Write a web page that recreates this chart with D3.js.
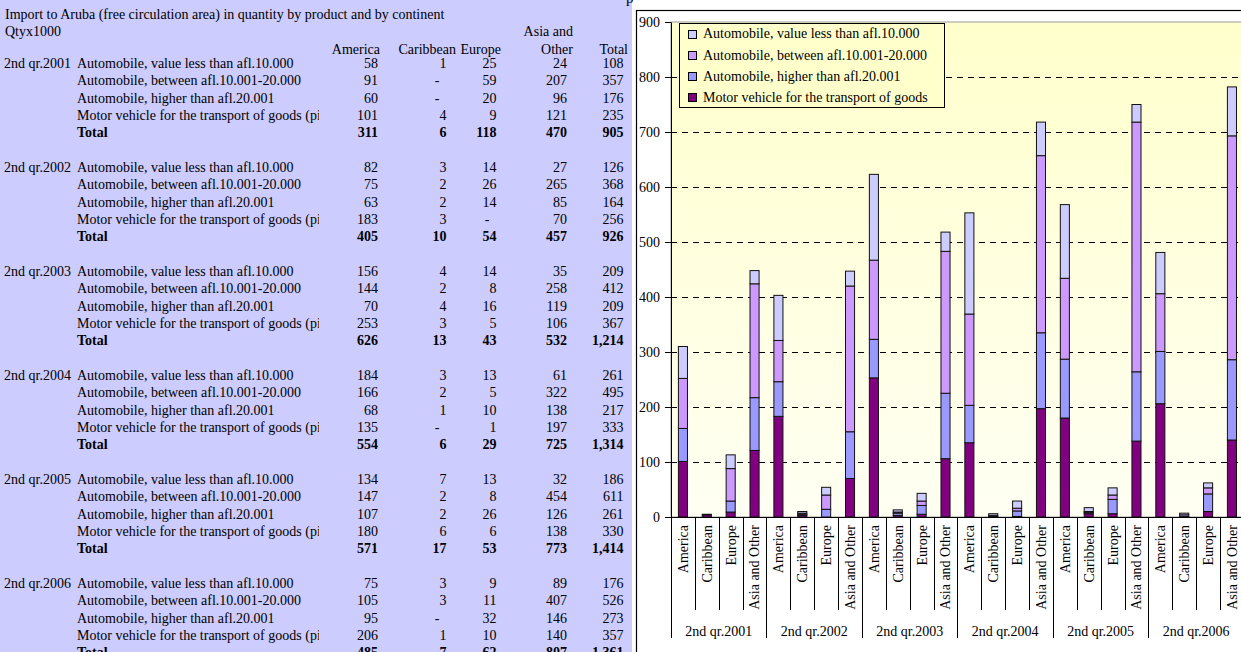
<!DOCTYPE html>
<html>
<head>
<meta charset="utf-8">
<script src="https://cdn.jsdelivr.net/npm/d3@7"></script>
<style>
  body { margin: 0; background: #fff; }
  text { font-family: "Liberation Serif", "Times New Roman", serif; font-size: 14px; fill: #000; }
</style>
</head>
<body>
<div id="sheet"></div>
<script>
// --- data ---
const quarters = ["2nd qr.2001", "2nd qr.2002", "2nd qr.2003", "2nd qr.2004", "2nd qr.2005", "2nd qr.2006"];
const continents = ["America", "Caribbean", "Europe", "Asia and Other"];
const products = [
  "Automobile, value less than afl.10.000",
  "Automobile, between afl.10.001-20.000",
  "Automobile, higher than afl.20.001",
  "Motor vehicle for the transport of goods (pick-ups)"
];
const legendNames = [
  "Automobile, value less than afl.10.000",
  "Automobile, between afl.10.001-20.000",
  "Automobile, higher than afl.20.001",
  "Motor vehicle for the transport of goods"
];
const productColors = ["#ccccff", "#cc99ff", "#9999ff", "#800080"];

// one row per quarter: America, Caribbean, Europe, Asia and Other
const lessThan10 = [[58, 1, 25, 24], [82, 3, 14, 27], [156, 4, 14, 35], [184, 3, 13, 61], [134, 7, 13, 32], [75, 3, 9, 89]];
const between10and20 = [[91, 0, 59, 207], [75, 2, 26, 265], [144, 2, 8, 258], [166, 2, 5, 322], [147, 2, 8, 454], [105, 3, 11, 407]];
const higher20 = [[60, 0, 20, 96], [63, 2, 14, 85], [70, 4, 16, 119], [68, 1, 10, 138], [107, 2, 26, 126], [95, 0, 32, 146]];
const motorGoods = [[101, 4, 9, 121], [183, 3, 0, 70], [253, 3, 5, 106], [135, 0, 1, 197], [180, 6, 6, 138], [206, 1, 10, 140]];
// totals as printed (rounded in the source, so not always the exact sum)
const rowTotals = [[108, 357, 176, 235], [126, 368, 164, 256], [209, 412, 209, 367], [261, 495, 217, 333], [186, 611, 261, 330], [176, 526, 273, 357]];
const blockTotals = [[311, 6, 118, 470, 905], [405, 10, 54, 457, 926], [626, 13, 43, 532, 1214], [554, 6, 29, 725, 1314], [571, 17, 53, 773, 1414], [485, 7, 62, 807, 1361]];
const yTicks = [0, 100, 200, 300, 400, 500, 600, 700, 800, 900];

const productSeries = [lessThan10, between10and20, higher20, motorGoods];

const W = 1241, H = 652;
const svg = d3.select("#sheet").append("svg").attr("width", W).attr("height", H);

// ================= spreadsheet table =================
svg.append("rect").attr("x", 0).attr("y", 0).attr("width", 632).attr("height", H).attr("fill", "#ccccff");

const defs = svg.append("defs");
defs.append("clipPath").attr("id", "clipQuarter")
  .append("rect").attr("x", 0).attr("y", 0).attr("width", 76).attr("height", H);
defs.append("clipPath").attr("id", "clipProduct")
  .append("rect").attr("x", 0).attr("y", 0).attr("width", 319).attr("height", H);

// cut a cell's text like a spreadsheet does when the next cell is filled
function fitCell(sel, maxW) {
  sel.each(function () {
    const node = this, full = node.textContent;
    let s = full;
    while (s.length > 1 && node.getComputedTextLength() > maxW) {
      s = s.slice(0, -1);
      node.textContent = s;
    }
    // keep one partly hidden character, the clip path hides the rest
    if (s.length < full.length) node.textContent = full.slice(0, s.length + 1);
  });
}

const table = svg.append("g");
table.append("text").attr("x", 5).attr("y", 14).attr("dy", "0.35em")
  .text("Import to Aruba (free circulation area) in quantity by product and by continent");
table.append("text").attr("x", 5).attr("y", 31).attr("dy", "0.35em").text("Qtyx1000");

const numRight = [378, 446.5, 496.5, 567, 623.5];
const headRight = [380, 456, 501, 573, 628];
const headers = ["America", "Caribbean", "Europe", "Other", "Total"];
headers.forEach((h, i) => {
  table.append("text").attr("x", headRight[i]).attr("y", 49).attr("dy", "0.35em")
    .attr("text-anchor", "end").text(h);
});
table.append("text").attr("x", headRight[3]).attr("y", 31).attr("dy", "0.35em")
  .attr("text-anchor", "end").text("Asia and");

const fmt = d3.format(",");
const rowH = 17.33, blockH = 104, firstRow = 63;

quarters.forEach((q, b) => {
  const y0 = firstRow + b * blockH;
  table.append("text").attr("x", 4).attr("y", y0).attr("dy", "0.35em")
    .attr("clip-path", "url(#clipQuarter)").text(q);

  const rows = products.map((p, i) => ({
    label: p,
    values: productSeries[i][b].concat([rowTotals[b][i]]),
    bold: false
  }));
  rows.push({ label: "Total", values: blockTotals[b], bold: true });

  rows.forEach((r, i) => {
    const y = y0 + i * rowH;
    table.append("text").attr("x", 77).attr("y", y).attr("dy", "0.35em")
      .attr("clip-path", "url(#clipProduct)")
      .style("font-weight", r.bold ? "bold" : null)
      .text(r.label)
      .call(fitCell, 319 - 77);
    r.values.forEach((v, j) => {
      table.append("text")
        .attr("x", v === 0 ? numRight[j] - 7 : numRight[j])
        .attr("y", y).attr("dy", "0.35em")
        .attr("text-anchor", "end")
        .style("font-weight", r.bold ? "bold" : null)
        .text(v === 0 ? "-" : fmt(v));
    });
  });
});

// clipped title of the chart object peeking at the top
svg.append("text").attr("x", 626).attr("y", 3).style("font-size", "15px").text("p");

// ================= chart =================
const chart = svg.append("g");
chart.append("rect").attr("x", 636.5).attr("y", 10.5).attr("width", 700).attr("height", 700)
  .attr("fill", "#fff").attr("stroke", "#000").attr("stroke-width", 1.2);

const plotLeft = 671, plotTop = 22, plotBottom = 517;
const step = 23.87;

const grad = defs.append("linearGradient").attr("id", "plotBg")
  .attr("x1", 0).attr("y1", 0).attr("x2", 0).attr("y2", 1);
grad.append("stop").attr("offset", "0%").attr("stop-color", "#ffffcc");
grad.append("stop").attr("offset", "100%").attr("stop-color", "#fffff3");

chart.append("rect").attr("x", plotLeft).attr("y", plotTop)
  .attr("width", W - plotLeft + 10).attr("height", plotBottom - plotTop)
  .attr("fill", "url(#plotBg)").attr("stroke", "#999");

const y = d3.scaleLinear().domain([0, 900]).range([plotBottom, plotTop]);

// flat table of bars
const barRows = [];
quarters.forEach((q, b) => {
  continents.forEach((c, k) => {
    const row = { key: q + "|" + c, quarter: q, continent: c };
    products.forEach((p, i) => { row[p] = productSeries[i][b][k]; });
    barRows.push(row);
  });
});

const x = d3.scaleBand()
  .domain(barRows.map(d => d.key))
  .range([plotLeft, plotLeft + step * barRows.length])
  .paddingInner(0.62).paddingOuter(0.31);

// gridlines
chart.append("g").selectAll("line")
  .data(yTicks.filter(t => t > 0 && t < 900))
  .enter().append("line")
  .attr("x1", plotLeft).attr("x2", W)
  .attr("y1", d => Math.round(y(d)) + 0.5).attr("y2", d => Math.round(y(d)) + 0.5)
  .attr("stroke", "#000").attr("stroke-dasharray", "6,5");

// stacked bars, bottom to top: goods, higher, between, less
const stackKeys = products.slice().reverse();
const stack = d3.stack().keys(stackKeys)(barRows);
const colorOf = d3.scaleOrdinal().domain(products).range(productColors);

chart.append("g").selectAll("g")
  .data(stack).enter().append("g")
  .attr("fill", d => colorOf(d.key))
  .selectAll("rect")
  .data(d => d).enter().append("rect")
  .attr("x", d => x(d.data.key))
  .attr("y", d => y(d[1]))
  .attr("width", x.bandwidth())
  .attr("height", d => y(d[0]) - y(d[1]))
  .attr("stroke", "#111").attr("stroke-width", 1);

// y axis
const yAxis = chart.append("g").attr("transform", `translate(${plotLeft},0)`)
  .call(d3.axisLeft(y).tickValues(yTicks).tickSize(6).tickSizeOuter(0).tickPadding(5));
yAxis.select(".domain").attr("stroke", "#000");
yAxis.selectAll("text").style("font-family", "Liberation Serif").style("font-size", "14px");

// category axis
const catAxis = chart.append("g");
catAxis.append("line").attr("x1", plotLeft).attr("x2", W)
  .attr("y1", plotBottom + 0.5).attr("y2", plotBottom + 0.5).attr("stroke", "#000");
catAxis.selectAll("line.sep")
  .data(d3.range(barRows.length + 1)).enter().append("line")
  .attr("class", "sep")
  .attr("x1", i => Math.round(plotLeft + i * step) + 0.5)
  .attr("x2", i => Math.round(plotLeft + i * step) + 0.5)
  .attr("y1", plotBottom).attr("y2", i => i % 4 === 0 ? 638 : 610)
  .attr("stroke", "#000");

catAxis.selectAll("text.cat")
  .data(barRows).enter().append("text")
  .attr("class", "cat")
  .attr("transform", d => `translate(${x(d.key) + x.bandwidth() / 2},525) rotate(-90)`)
  .attr("text-anchor", "end").attr("dy", "0.35em")
  .text(d => d.continent);

catAxis.selectAll("text.grp")
  .data(quarters).enter().append("text")
  .attr("class", "grp")
  .attr("x", (q, b) => plotLeft + (b * 4 + 2) * step)
  .attr("y", 631).attr("dy", "0.35em")
  .attr("text-anchor", "middle")
  .text(q => q);

// legend
const legend = chart.append("g");
legend.append("rect").attr("x", 679.5).attr("y", 23.5).attr("width", 265).attr("height", 84)
  .attr("fill", "#ffffcc").attr("stroke", "#000");
legendNames.forEach((name, i) => {
  const cy = 33.5 + i * 21.2;
  legend.append("rect").attr("x", 688.5).attr("y", Math.round(cy - 4) + 0.5)
    .attr("width", 8).attr("height", 8)
    .attr("fill", productColors[i]).attr("stroke", "#000");
  legend.append("text").attr("x", 703).attr("y", cy).attr("dy", "0.35em").text(name);
});
</script>
</body>
</html>
